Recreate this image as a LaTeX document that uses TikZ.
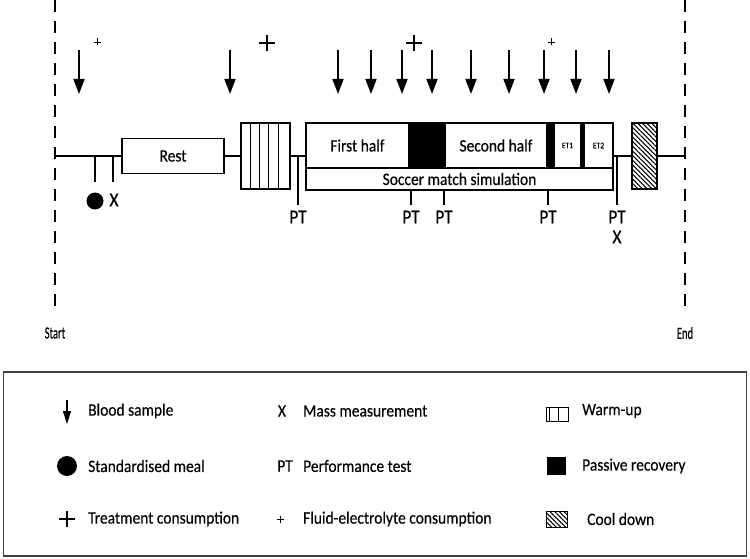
\documentclass[tikz,border=0pt]{standalone}
\usepackage{fontspec}
\setmainfont{Carlito}[FakeStretch=0.89, FakeBold=0.3]
\newfontfamily\condfont{Carlito}[FakeStretch=0.62, FakeBold=0.4]
\usetikzlibrary{arrows.meta,patterns.meta}
\begin{document}
\begin{tikzpicture}[x=1pt,y=-1pt,
  tline/.style={line width=1.4pt},
  box/.style={draw, line width=1.3pt, fill=white, inner sep=0pt, outer sep=0pt},
  blackbox/.style={draw, line width=1.3pt, fill=black, inner sep=0pt, outer sep=0pt},
  lbl/.style={font=\fontsize{17.4}{20}\selectfont, inner sep=0pt},
  ptl/.style={font=\fontsize{19.5}{22}\selectfont, inner sep=0pt},
  etl/.style={font=\fontsize{8.5}{10}\selectfont, inner sep=0pt},
  sel/.style={font=\condfont\fontsize{17}{19}\selectfont, inner sep=0pt},
  blood/.style={line width=1.6pt, -{Triangle[width=11pt,length=15pt]}},
  lblood/.style={line width=1.4pt, -{Triangle[width=8pt,length=13pt]}},
  dashv/.style={line width=1.5pt, dash pattern=on 12pt off 9pt},
  hatch/.style={pattern={Lines[angle=-45, distance=3.3pt, line width=1.1pt]}},
  bigplus/.pic={\draw[line width=2.6pt] (-8,0) -- (8,0) (0,-8) -- (0,8);},
  smallplus/.pic={\draw[line width=0.9pt] (-3.5,0) -- (3.5,0) (0,-3.5) -- (0,3.5);},
  meal/.style={circle, fill=black, inner sep=0pt},
]
\useasboundingbox (0,0) rectangle (750,559);

% start / end dashed lines
\coordinate (st) at (55,0);
\coordinate (sb) at (55,310);
\coordinate (et) at (685,0);
\coordinate (eb) at (685,310);
\draw[dashv] (st) -- (sb);
\draw[dashv] (et) -- (eb);
\node[sel] (startlbl) at (55,333) {Start};
\node[sel] (endlbl) at (685,333) {End};

% timeline anchors
\coordinate (s) at (55,156);
\coordinate (e) at (685,156);

% boxes
\node[box, lbl, minimum width=102pt, minimum height=35pt] (rest) at (173,156) {Rest};
\node[box, minimum width=49pt, minimum height=66pt] (warm) at (265.5,156) {};
\foreach \xx in {250,259,268.5,278} \draw[line width=1pt] (\xx,123) -- (\xx,189);

\node[box, minimum width=307pt, minimum height=67pt] (main) at (459.5,156.5) {};
\node[box, lbl, minimum width=103pt, minimum height=45pt] (first) at (357.5,145.5) {First half};
\node[blackbox, minimum width=36pt, minimum height=45pt] (rec1) at (427,145.5) {};
\node[box, lbl, minimum width=102pt, minimum height=45pt] (second) at (496,145.5) {Second half};
\node[blackbox, minimum width=6pt, minimum height=45pt] (rec2) at (550.5,145.5) {};
\node[box, etl, minimum width=27pt, minimum height=45pt] (et1) at (567.5,145.5) {ET1};
\node[blackbox, minimum width=3pt, minimum height=45pt] (rec3) at (582.5,145.5) {};
\node[box, etl, minimum width=29pt, minimum height=45pt] (et2) at (598.5,145.5) {ET2};
\node[box, lbl, minimum width=307pt, minimum height=22pt] (sim) at (459.5,179) {Soccer match simulation};

\node[box, minimum width=25pt, minimum height=66pt, postaction={hatch}] (cool) at (644.5,156) {};

% timeline segments
\draw[tline] (s) -- (rest.west);
\draw[tline] (rest.east) -- (warm.west);
\draw[tline] (warm.east) -- (warm.east -| main.west);
\draw[tline] (main.east |- s) -- (cool.west);
\draw[tline] (cool.east) -- (e);

% ticks, meal, mass
\coordinate (t1) at (95,182);
\coordinate (t2) at (113,182);
\draw[tline] (t1 |- s) -- (t1);
\draw[tline] (t2 |- s) -- (t2);
\node[meal, minimum size=17pt] (meal1) at (95,201) {};
\node[ptl] (x1) at (114,200) {X};

% PT ticks
\coordinate (p1) at (298,205);
\draw[tline] (p1 |- s) -- (p1);
\node[ptl] (pt1) at (298,217) {PT};
\foreach \xx [count=\i] in {411,444,548} {
  \coordinate (q\i) at (\xx,205);
  \draw[tline] (q\i |- sim.south) -- (q\i);
  \node[ptl] (ptm\i) at (\xx,217) {PT};
}
\coordinate (p5) at (617,205);
\draw[tline] (p5 |- s) -- (p5);
\node[ptl] (pt5) at (617,217) {PT};
\node[ptl] (x2) at (617,237) {X};

% blood samples
\foreach \xx [count=\i] in {79,230,338,371,402,432,471,509,544,576,609} {
  \coordinate (bt\i) at (\xx,50);
  \coordinate (bb\i) at (\xx,94);
  \draw[blood] (bt\i) -- (bb\i);
}

% consumption markers
\pic at (97,42) {smallplus};
\pic at (267,43) {bigplus};
\pic at (414,43) {bigplus};
\pic at (551,42) {smallplus};

% legend
\node[draw=black!75, line width=1.1pt, minimum width=743pt, minimum height=184pt, inner sep=0pt] (legend) at (375,464) {};

\coordinate (la1) at (67,400);
\coordinate (la2) at (67,424);
\draw[lblood] (la1) -- (la2);
\node[lbl, anchor=west] (l1) at (88,411) {Blood sample};
\node[meal, minimum size=20pt] (lmeal) at (67,466) {};
\node[lbl, anchor=west] (l2) at (88,466) {Standardised meal};
\pic at (67,519) {bigplus};
\node[lbl, anchor=west] (l3) at (88,519) {Treatment consumption};

\node[lbl] (lx) at (282,411) {X};
\node[lbl, anchor=west] (l4) at (303,411) {Mass measurement};
\node[lbl] (lpt) at (285,466) {PT};
\node[lbl, anchor=west] (l5) at (303,466) {Performance test};
\pic at (280,519) {smallplus};
\node[lbl, anchor=west] (l6) at (303,519) {Fluid-electrolyte consumption};

\draw[line width=1pt] (546,407) rectangle (568,421);
\draw[line width=1pt] (549,407) -- (549,421) (558,407) -- (558,421);
\node[lbl, anchor=west] (l7) at (582,411) {Warm-up};
\fill (547,457) rectangle (566,475);
\node[lbl, anchor=west] (l8) at (582,466) {Passive recovery};
\draw[line width=1pt, hatch] (546,511) rectangle (567,527);
\draw[line width=1pt] (546,511) rectangle (567,527);
\node[lbl, anchor=west] (l9) at (587,519) {Cool down};
\end{tikzpicture}
\end{document}
